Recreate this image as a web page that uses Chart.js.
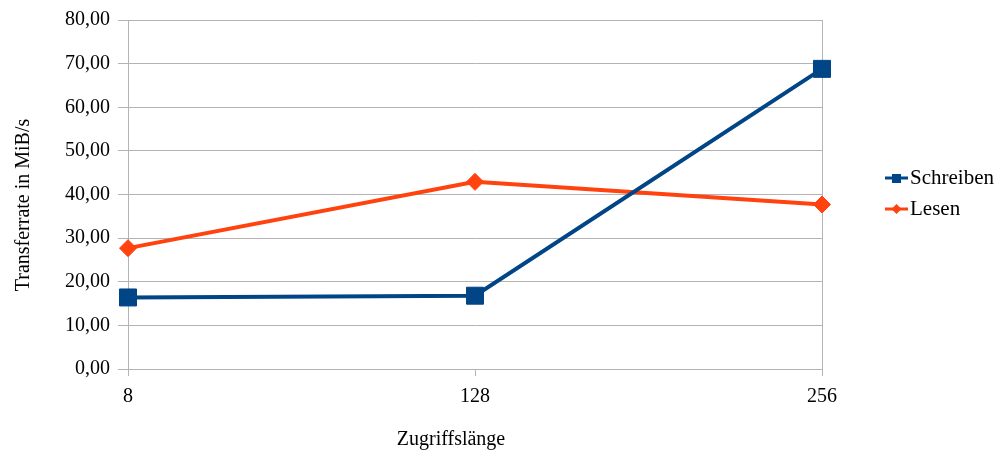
<!DOCTYPE html>
<html>
<head>
<meta charset="utf-8">
<script src="https://cdn.jsdelivr.net/npm/chart.js@4/dist/chart.umd.min.js"></script>
<style>
  html, body { margin: 0; padding: 0; background: #ffffff; }
  #wrap { width: 1007px; height: 455px; }
</style>
</head>
<body>
<div id="wrap"><canvas id="c" width="1007" height="455"></canvas></div>
<script>
// Access lengths on the x axis
const categories = ['8', '128', '256'];
// Transfer rates in MiB/s
const schreiben = [16.4, 16.8, 68.8];
const lesen = [27.7, 42.9, 37.7];
// Value axis range and step
const yMin = 0, yMax = 80, yStep = 10;

const xTitle = 'Zugriffslänge';
const yTitle = 'Transferrate in MiB/s';

const BLUE = '#004586';
const ORANGE = '#ff420e';
const GRID = '#b3b3b3';
const FONT = "'Liberation Serif', 'DejaVu Serif', serif";

const fmt = v => v.toFixed(2).replace('.', ',');

// Axis titles and legend drawn on top of the chart
const extras = {
  id: 'extras',
  afterDraw(chart) {
    const ctx = chart.ctx;
    ctx.save();
    ctx.fillStyle = '#000';
    ctx.font = '20px ' + FONT;
    ctx.textAlign = 'center';
    ctx.textBaseline = 'middle';
    // x axis title
    ctx.fillText(xTitle, 451, 440);
    // y axis title
    ctx.save();
    ctx.translate(24, 205);
    ctx.rotate(-Math.PI / 2);
    ctx.fillText(yTitle, 0, 0);
    ctx.restore();

    // legend
    const items = [
      { label: chart.data.datasets[0].label, color: BLUE, shape: 'square', y: 178 },
      { label: chart.data.datasets[1].label, color: ORANGE, shape: 'diamond', y: 209 }
    ];
    ctx.textAlign = 'left';
    items.forEach(it => {
      ctx.strokeStyle = it.color;
      ctx.fillStyle = it.color;
      ctx.lineWidth = 3;
      ctx.beginPath();
      ctx.moveTo(885, it.y);
      ctx.lineTo(908, it.y);
      ctx.stroke();
      ctx.beginPath();
      if (it.shape === 'square') {
        ctx.rect(892, it.y - 4, 9, 9);
      } else {
        ctx.moveTo(896.5, it.y - 5);
        ctx.lineTo(901.5, it.y);
        ctx.lineTo(896.5, it.y + 5);
        ctx.lineTo(891.5, it.y);
        ctx.closePath();
      }
      ctx.fill();
      ctx.fillStyle = '#000';
      ctx.font = '21px ' + FONT;
      ctx.fillText(it.label, 910, it.y);
    });
    ctx.restore();
  }
};

new Chart(document.getElementById('c'), {
  type: 'line',
  data: {
    labels: categories,
    datasets: [
      {
        label: 'Schreiben',
        data: schreiben,
        borderColor: BLUE,
        backgroundColor: BLUE,
        borderWidth: 4,
        pointStyle: 'rect',
        pointRadius: 12,
        pointBorderWidth: 1,
        pointBorderColor: BLUE,
        pointBackgroundColor: BLUE,
        tension: 0
      },
      {
        label: 'Lesen',
        data: lesen,
        borderColor: ORANGE,
        backgroundColor: ORANGE,
        borderWidth: 4,
        pointStyle: 'rectRot',
        pointRadius: 8.5,
        pointBorderWidth: 1,
        pointBorderColor: ORANGE,
        pointBackgroundColor: ORANGE,
        tension: 0
      }
    ]
  },
  options: {
    responsive: false,
    animation: false,
    devicePixelRatio: 1,
    layout: { padding: { left: 0, top: 19, right: 185, bottom: 0 } },
    plugins: {
      legend: { display: false },
      tooltip: { enabled: false }
    },
    scales: {
      x: {
        type: 'category',
        offset: false,
        afterFit: s => { s.height = 86; },
        grid: {
          color: c => (c.index === 1 ? 'rgba(0,0,0,0)' : GRID),
          tickColor: GRID,
          tickLength: 7,
          lineWidth: 1
        },
        border: { color: GRID, width: 1 },
        ticks: {
          color: '#000',
          font: { family: FONT, size: 20 },
          padding: 9,
          maxRotation: 0
        }
      },
      y: {
        min: yMin,
        max: yMax,
        afterFit: s => { s.width = 128; },
        grid: {
          color: GRID,
          tickColor: GRID,
          tickLength: 10,
          lineWidth: 1
        },
        border: { color: GRID, width: 1 },
        ticks: {
          stepSize: yStep,
          color: '#000',
          font: { family: FONT, size: 20 },
          padding: 8,
          callback: v => fmt(v)
        }
      }
    }
  },
  plugins: [extras]
});
</script>
</body>
</html>
